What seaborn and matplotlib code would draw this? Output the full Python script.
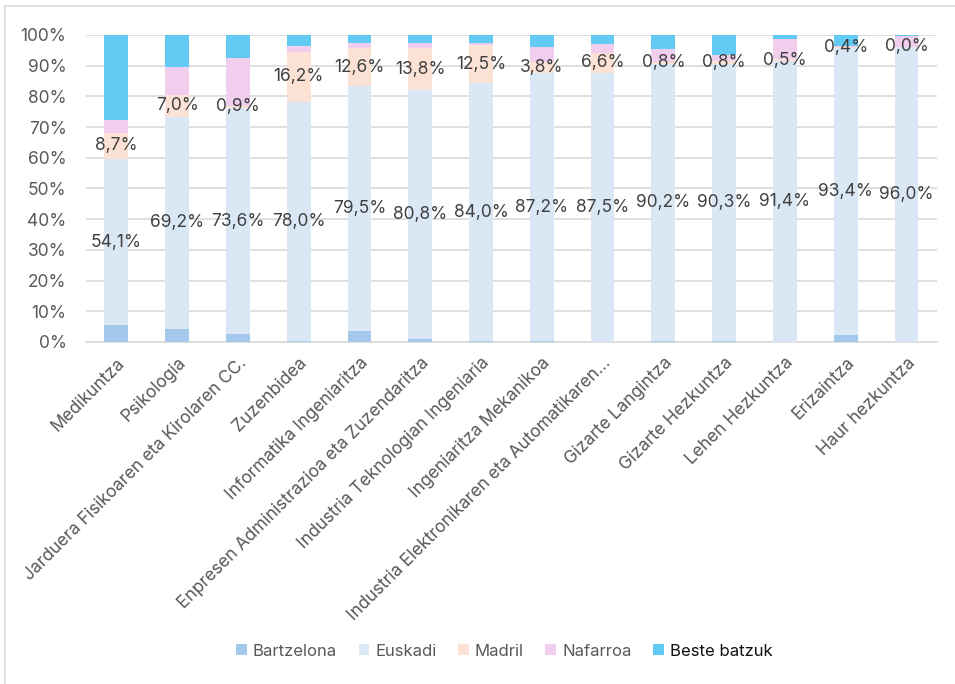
import numpy as np
import seaborn as sns
import matplotlib.pyplot as plt
from matplotlib.lines import Line2D
from matplotlib.ticker import FuncFormatter

# data (percentages per degree)
categories = ["Medikuntza", "Psikologia", "Jarduera Fisikoaren eta Kirolaren CC.",
              "Zuzenbidea", "Informatika Ingeniaritza",
              "Enpresen Administrazioa eta Zuzendaritza",
              "Industria Teknologian Ingeniaria", "Ingeniaritza Mekanikoa",
              "Industria Elektronikaren eta Automatikaren\u2026", "Gizarte Langintza",
              "Gizarte Hezkuntza", "Lehen Hezkuntza", "Erizaintza", "Haur hezkuntza"]
bartzelona = [5.4, 4.2, 2.5, 0.3, 3.7, 1.1, 0.2, 0.3, 0.1, 0.3, 0.3, 0.1, 2.2, 0.1]
euskadi = [54.1, 69.2, 73.6, 78.0, 79.5, 80.8, 84.0, 87.2, 87.5, 90.2, 90.3, 91.4, 93.4, 96.0]
madril = [8.7, 7.0, 0.9, 16.2, 12.6, 13.8, 12.5, 3.8, 6.6, 0.8, 0.8, 0.5, 0.4, 0.0]
nafarroa = [4.1, 9.0, 15.6, 1.8, 1.5, 1.8, 0.5, 4.7, 2.9, 4.0, 2.1, 6.8, 0.3, 3.5]
beste = [27.7, 10.6, 7.4, 3.7, 2.7, 2.5, 2.8, 4.0, 2.9, 4.7, 6.5, 1.2, 3.7, 0.4]

series = [("Bartzelona", bartzelona, "#A5C9EB"),
          ("Euskadi", euskadi, "#DAE8F6"),
          ("Madril", madril, "#FBE2D4"),
          ("Nafarroa", nafarroa, "#F2CEEE"),
          ("Beste batzuk", beste, "#61CBF3")]
labelled = ["Euskadi", "Madril"]

sns.set_style("white")
plt.rcParams['font.family'] = ['Inter', 'DejaVu Sans']

fig = plt.figure(figsize=(9.55, 6.84), dpi=100)
ax = fig.add_axes([0.090, 0.5, 0.891, 0.449])

bottom = np.zeros(len(categories))
for name, vals, col in series:
    sns.barplot(x=categories, y=vals, bottom=bottom, color=col, width=0.39,
                saturation=1, ax=ax, label=name, linewidth=0, zorder=3)
    if name in labelled:
        ax.bar_label(ax.containers[-1], labels=[f"{v:.1f}%".replace(".", ",") for v in vals],
                     label_type="center", fontsize=12.5, color="#404040", zorder=5)
    bottom += np.array(vals)

ax.set_ylim(0, 100)
ax.set_xlim(-0.5, len(categories) - 0.5)
ax.set_yticks(np.arange(0, 101, 10))
ax.yaxis.set_major_formatter(FuncFormatter(lambda v, p: f"{v:.0f}%"))
ax.grid(axis="y", color="#D9D9D9", linewidth=1.2, zorder=0)
for s in ["top", "right", "left"]:
    ax.spines[s].set_visible(False)
ax.spines["bottom"].set_color("#D9D9D9")
ax.spines["bottom"].set_linewidth(1.2)
ax.tick_params(axis="y", length=0, labelsize=12.5, labelcolor="#595959", pad=14)
ax.tick_params(axis="x", length=0, labelsize=12.5, labelcolor="#595959", pad=9)
plt.setp(ax.get_xticklabels(), rotation=45, ha="right", rotation_mode="anchor")
ax.set_xlabel("")
ax.set_ylabel("")

leg = ax.legend(loc="center", bbox_to_anchor=(0.528, 0.048), bbox_transform=fig.transFigure,
                ncol=5, frameon=False, fontsize=12, handlelength=0.65, handleheight=0.65,
                handletextpad=0.35, columnspacing=1.3)
for t in leg.get_texts():
    t.set_color("#595959")
leg.get_texts()[-1].set_color("#111111")

# light chart frame
fig.add_artist(Line2D([5 / 955, 5 / 955], [0, 1 - 6 / 684], color="#D9D9D9", lw=1.2))
fig.add_artist(Line2D([5 / 955, 1], [1 - 6 / 684, 1 - 6 / 684], color="#D9D9D9", lw=1.2))

plt.savefig("out.png", dpi=100)
